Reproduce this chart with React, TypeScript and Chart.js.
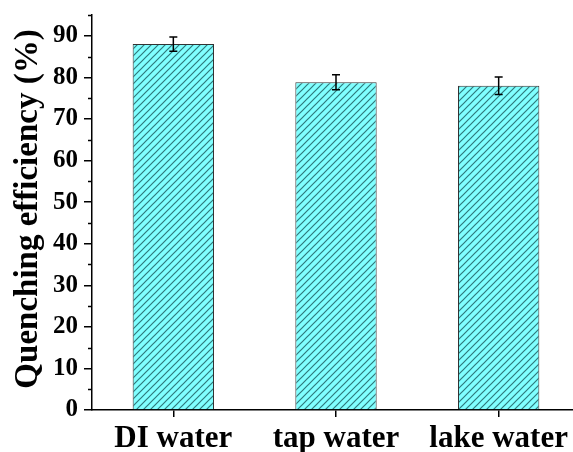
import React, { useEffect, useRef } from "react";
import { Chart, registerables } from "chart.js";

Chart.register(...registerables);

const categories = ["DI water", "tap water", "lake water"];
const efficiency = [88.0, 78.8, 78.0];
const errors = [1.7, 1.8, 2.1];
const yTitle = "Quenching efficiency (%)";
const yMin = 0;
const yMax = 95;
const yStep = 10;
const minorTicks = [5, 15, 25, 35, 45, 55, 65, 75, 85, 95];

const FONT = "'Liberation Serif', 'Times New Roman', serif";

function makePattern(): CanvasPattern | string {
  const s = 7;
  const c = document.createElement("canvas");
  c.width = s;
  c.height = s;
  const g = c.getContext("2d");
  if (!g) return "#80FFFF";
  g.fillStyle = "#80FFFF";
  g.fillRect(0, 0, s, s);
  g.strokeStyle = "#2E7A7C";
  g.lineWidth = 1.2;
  g.beginPath();
  g.moveTo(-1, s + 1);
  g.lineTo(s + 1, -1);
  g.moveTo(-1, 1);
  g.lineTo(1, -1);
  g.moveTo(s - 1, s + 1);
  g.lineTo(s + 1, s - 1);
  g.stroke();
  const p = g.createPattern(c, "repeat");
  return p || "#80FFFF";
}

const extrasPlugin = {
  id: "extras",
  afterDatasetsDraw(chart: any) {
    const ctx = chart.ctx;
    const y = chart.scales.y;
    const meta = chart.getDatasetMeta(0);
    ctx.save();
    ctx.strokeStyle = "#000";
    ctx.lineWidth = 1.5;
    meta.data.forEach((bar: any, i: number) => {
      const v = efficiency[i];
      const e = errors[i];
      const yt = y.getPixelForValue(v + e);
      const yb = y.getPixelForValue(v - e);
      const x = bar.x;
      ctx.beginPath();
      ctx.moveTo(x, yt);
      ctx.lineTo(x, yb);
      ctx.moveTo(x - 4, yt);
      ctx.lineTo(x + 4, yt);
      ctx.moveTo(x - 4, yb);
      ctx.lineTo(x + 4, yb);
      ctx.stroke();
    });
    ctx.restore();
  },
  afterDraw(chart: any) {
    const ctx = chart.ctx;
    const y = chart.scales.y;
    const left = chart.chartArea.left;
    ctx.save();
    ctx.strokeStyle = "#000";
    ctx.lineWidth = 1.5;
    minorTicks.forEach((v) => {
      const py = Math.round(y.getPixelForValue(v)) + 0.5;
      ctx.beginPath();
      ctx.moveTo(left - 4, py);
      ctx.lineTo(left, py);
      ctx.stroke();
    });
    ctx.fillStyle = "#000";
    ctx.font = `bold 33px ${FONT}`;
    ctx.textAlign = "center";
    ctx.textBaseline = "middle";
    ctx.translate(28, 209);
    ctx.rotate(-Math.PI / 2);
    ctx.fillText(yTitle, 0, 0);
    ctx.restore();
  },
};

export default function App() {
  const ref = useRef<HTMLCanvasElement | null>(null);
  useEffect(() => {
    if (!ref.current) return;
    const chart = new Chart(ref.current, {
      type: "bar",
      data: {
        labels: categories,
        datasets: [
          {
            data: efficiency,
            backgroundColor: makePattern() as any,
            borderColor: "#333",
            borderWidth: 1,
            barPercentage: 0.5,
            categoryPercentage: 1,
          },
        ],
      },
      options: {
        animation: false,
        responsive: false,
        layout: { padding: { top: 15, right: 10, left: 0, bottom: 0 } },
        plugins: { legend: { display: false }, tooltip: { enabled: false } },
        scales: {
          x: {
            offset: true,
            grid: {
              offset: false,
              drawOnChartArea: false,
              drawTicks: true,
              tickLength: 7,
              color: "#000",
              lineWidth: 1.5,
            },
            border: { color: "#000", width: 1.5 },
            ticks: {
              color: "#000",
              padding: 3,
              maxRotation: 0,
              font: { family: FONT, size: 31, weight: "bold" },
            },
            afterFit: (s: any) => {
              s.height = 42;
              s.paddingLeft = 0;
              s.paddingRight = 0;
            },
          },
          y: {
            min: yMin,
            max: yMax,
            grid: {
              drawOnChartArea: false,
              drawTicks: true,
              tickLength: 8,
              color: "#000",
              lineWidth: 1.5,
            },
            border: { color: "#000", width: 1.5 },
            ticks: {
              stepSize: yStep,
              includeBounds: false,
              color: "#000",
              padding: 6,
              font: { family: FONT, size: 25, weight: "bold" },
            },
            afterFit: (s: any) => {
              s.width = 92;
              s.paddingTop = 0;
              s.paddingBottom = 0;
            },
          },
        },
      },
      plugins: [extrasPlugin],
    });
    return () => chart.destroy();
  }, []);
  return (
    <div
      style={{
        position: "fixed",
        left: 0,
        top: 0,
        width: 573,
        height: 452,
        overflow: "hidden",
        background: "#fff",
      }}
    >
      <canvas ref={ref} width={590} height={452} style={{ display: "block" }} />
    </div>
  );
}
